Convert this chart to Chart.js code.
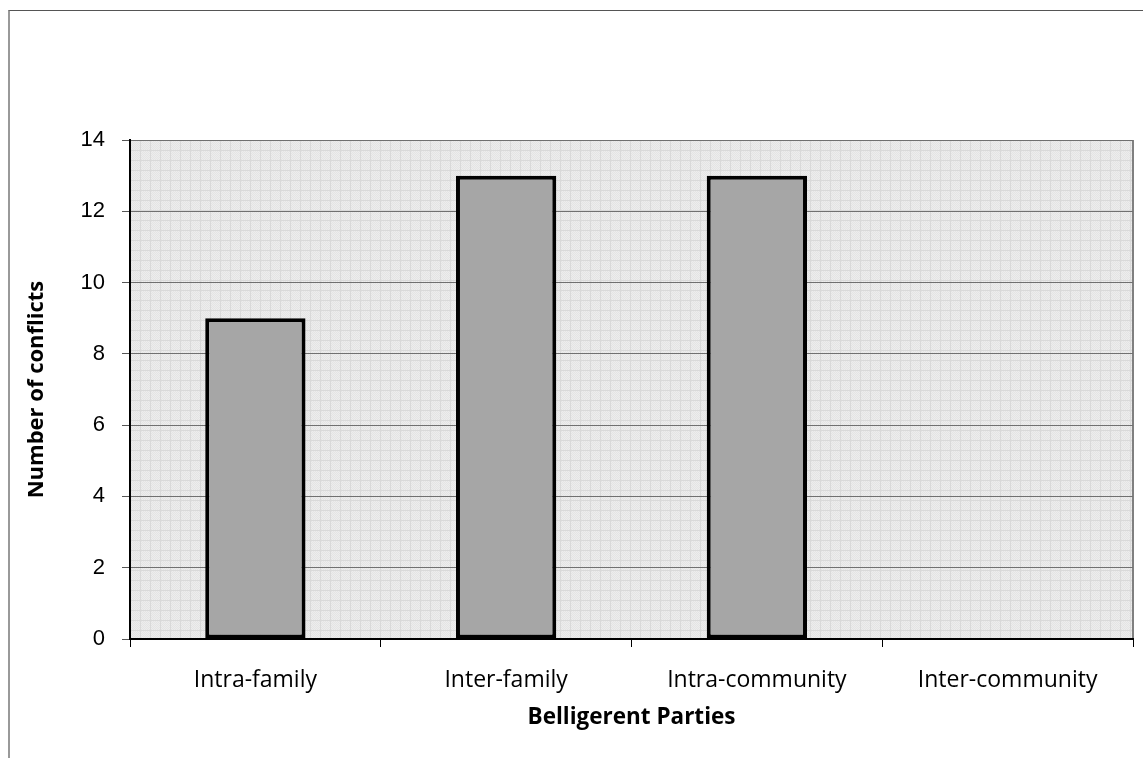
<!DOCTYPE html>
<html>
<head>
<meta charset="utf-8">
<script src="https://cdn.jsdelivr.net/npm/chart.js@4.4.0/dist/chart.umd.min.js"></script>
<style>
  html, body { margin: 0; padding: 0; background: #fff; overflow: hidden; }
  #wrap { position: relative; width: 1143px; height: 758px; }
  #frame { position: absolute; left: 8px; top: 10px; width: 1200px; height: 800px;
           border-top: 1px solid #555; border-left: 2px solid #999; }
  #chart { position: absolute; left: 0; top: 0; }
</style>
</head>
<body>
<div id="wrap">
  <div id="frame"></div>
  <canvas id="chart" width="1143" height="758"></canvas>
</div>
<script>
// --- Data ---
const categories = ['Intra-family', 'Inter-family', 'Intra-community', 'Inter-community'];
const conflicts = [9, 13, 13, 0];
const yTicks = [0, 2, 4, 6, 8, 10, 12, 14];

// --- Grid-paper background for the plot area ---
function makePattern(ctx) {
  const tile = document.createElement('canvas');
  tile.width = 10; tile.height = 10;
  const t = tile.getContext('2d');
  t.fillStyle = '#ededed';
  t.fillRect(0, 0, 10, 10);
  t.fillStyle = '#e4e4e4';
  for (let y = 0; y < 10; y++) {
    for (let x = (y % 2); x < 10; x += 2) t.fillRect(x, y, 1, 1);
  }
  t.fillStyle = '#d9d9d9';
  t.fillRect(0, 0, 10, 1);
  t.fillRect(0, 0, 1, 10);
  return ctx.createPattern(tile, 'repeat');
}

const plotBackground = {
  id: 'plotBackground',
  beforeDraw(chart) {
    const { ctx, chartArea: a } = chart;
    ctx.save();
    ctx.translate(a.left, a.top);
    ctx.fillStyle = makePattern(ctx);
    ctx.fillRect(0, 0, a.right - a.left, a.bottom - a.top);
    ctx.restore();
    // right border of the plot area
    ctx.save();
    ctx.strokeStyle = '#808080';
    ctx.lineWidth = 2;
    ctx.beginPath();
    ctx.moveTo(a.right, a.top);
    ctx.lineTo(a.right, a.bottom);
    ctx.stroke();
    ctx.restore();
  }
};

const ctx = document.getElementById('chart').getContext('2d');

new Chart(ctx, {
  type: 'bar',
  data: {
    labels: categories,
    datasets: [{
      data: conflicts,
      backgroundColor: '#a6a6a6',
      borderColor: '#000',
      borderWidth: 4,
      borderSkipped: false,
      categoryPercentage: 1,
      barPercentage: 0.4
    }]
  },
  options: {
    responsive: false,
    animation: false,
    devicePixelRatio: 1,
    layout: { padding: { top: 140, right: 10, left: 0, bottom: 0 } },
    plugins: { legend: { display: false }, tooltip: { enabled: false } },
    scales: {
      x: {
        afterFit: s => { s.height = 119; },
        grid: { offset: true, drawOnChartArea: false, color: '#000', tickLength: 8, tickWidth: 1 },
        border: { color: '#000', width: 2 },
        ticks: { color: '#000', padding: 20, font: { family: 'Open Sans', size: 23 } },
        title: {
          display: true, text: 'Belligerent Parties', color: '#000',
          font: { family: 'Open Sans', size: 22.5, weight: 'bold' },
          padding: { top: 0, bottom: 27 }
        }
      },
      y: {
        min: 0, max: 14,
        afterFit: s => { s.width = 130; },
        afterBuildTicks: s => { s.ticks = yTicks.map(v => ({ value: v })); },
        grid: { color: '#707070', lineWidth: 1, tickLength: 8, tickColor: '#555' },
        border: { color: '#000', width: 2 },
        ticks: { color: '#000', padding: 17, font: { family: 'Liberation Sans', size: 22 } },
        title: {
          display: true, text: 'Number of conflicts', color: '#000',
          font: { family: 'Open Sans', size: 22, weight: 'bold' },
          padding: { top: 24, bottom: 0 }
        }
      }
    }
  },
  plugins: [plotBackground]
});
</script>
</body>
</html>
